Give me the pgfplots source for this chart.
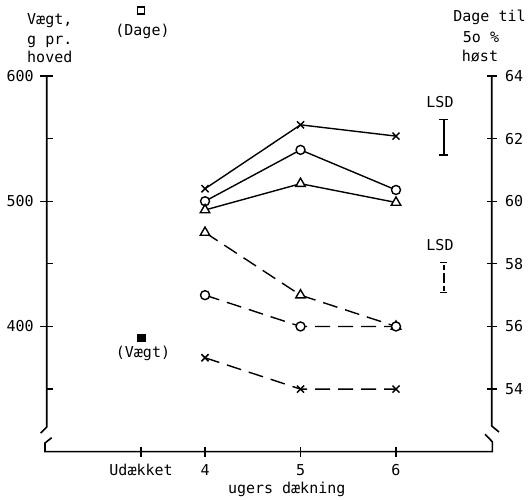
\documentclass[border=0pt]{standalone}
\usepackage{fontspec}
\setmainfont{DejaVu Sans Mono}
\usepackage{pgfplots}
\pgfplotsset{compat=1.18}
\begin{document}
\begin{tikzpicture}[font=\fontsize{15bp}{17bp}\selectfont]
\useasboundingbox (0,0) rectangle (531bp,500bp);
\pgfplotsset{
 base/.style={
  scale only axis, width=444.8bp, height=375.7bp,
  at={(46.7bp,48.3bp)}, anchor=south west,
  xmin=2.342, xmax=7, clip=false,
  axis line style={draw=none},
  /pgf/number format/assume math mode=true,
  tick style={black, line width=1.2bp},
  tick align=center,
  every tick label/.append style={font=\fontsize{15bp}{17bp}\selectfont},
 },
 wline/.style={black, line width=1.4bp},
 dline/.style={black, line width=1.4bp, dash pattern=on 15bp off 8bp},
}
% ---------- weight axis (left) ----------
\begin{axis}[base,
  ymin=300, ymax=600,
  axis y line*=left, axis x line=none,
  ytick={400,500,600},
  major tick length=13bp,
  extra y ticks={350,450,550},
  extra y tick labels={},
  extra y tick style={tick align=inside, major tick length=6.5bp},
  yticklabel style={anchor=east, xshift=-3bp},
]
\addplot[wline, mark=x, mark size=5bp, mark options={solid, line width=1.5bp}]
  coordinates {(4,510) (5,561) (6,552)};
\addplot[wline, mark=*, mark size=4.5bp, mark options={solid, fill=white, line width=1.4bp}]
  coordinates {(4,500) (5,541) (6,509)};
\addplot[wline, mark=triangle*, mark size=5.5bp, mark options={solid, fill=white, line width=1.4bp}]
  coordinates {(4,493) (5,514) (6,499)};
\addplot[only marks, black, mark=square*, mark size=3.8bp]
  coordinates {(3.33,391)};
% LSD (weight)
\addplot[black, line width=1.6bp, mark=none,
  error bars/.cd, y dir=both, y explicit,
  error bar style={line width=1.6bp, solid},
  error mark options={rotate=90, mark size=4.5bp, line width=1.6bp}]
  coordinates {(6.5,551.2) +- (0,14.2)};
\end{axis}
% ---------- days axis (right) ----------
\begin{axis}[base,
  ymin=52, ymax=64,
  axis y line*=right, axis x line*=bottom,
  ytick={54,56,58,60,62,64},
  xtick={3.33,4,5,6},
  xticklabels={Udækket,4,5,6},
  major tick length=10bp,
  yticklabel style={anchor=west, xshift=5bp},
  xticklabel style={anchor=base, yshift=-19bp},
]
\addplot[dline, mark=triangle*, mark size=5.5bp, mark options={solid, fill=white, line width=1.4bp}]
  coordinates {(4,59) (5,57) (6,56)};
\addplot[dline, mark=*, mark size=4.5bp, mark options={solid, fill=white, line width=1.4bp}]
  coordinates {(4,57) (5,56) (6,56)};
\addplot[dline, mark=x, mark size=5bp, mark options={solid, line width=1.5bp}]
  coordinates {(4,55) (5,54) (6,54)};
\addplot[only marks, black, mark=square, mark size=3.5bp, mark options={line width=1.8bp}]
  coordinates {(3.33,66.1)};
% LSD (days)
\addplot[black, line width=1.6bp, mark=none,
  error bars/.cd, y dir=both, y explicit,
  error bar style={line width=1.6bp, dash pattern=on 5bp off 3bp},
  error mark options={rotate=90, mark size=3.5bp, line width=1.6bp, solid}]
  coordinates {(6.5,57.56) +- (0,0.48)};
\end{axis}
% ---------- axis lines with breaks, titles ----------
\begin{scope}[x=1bp, y=-1bp, yshift=500bp]
 \draw[line width=1.6bp] (46.7,76) -- (46.7,427) -- (40.7,433);
 \draw[line width=1.6bp] (51.7,437.7) -- (45,443) -- (45,451.7) -- (492.3,451.7) -- (492.3,441.7) -- (485,434.3);
 \draw[line width=1.6bp] (491.7,76) -- (491.7,426) -- (499,432);
 \node[anchor=base west, inner sep=0] at (27,25) {Vægt,};
 \node[anchor=base west, inner sep=0] at (27,45) {g pr.};
 \node[anchor=base west, inner sep=0] at (27,63) {hoved};
 \node[anchor=base, inner sep=0] at (489.5,22) {Dage til};
 \node[anchor=base, inner sep=0] at (481,43) {5o \%};
 \node[anchor=base, inner sep=0] at (480,62) {høst};
 \node[anchor=base, inner sep=0] at (142.5,35.5) {(Dage)};
 \node[anchor=base, inner sep=0] at (143,358) {(Vægt)};
 \node[anchor=base, inner sep=0] at (440,108) {LSD};
 \node[anchor=base, inner sep=0] at (440,251) {LSD};
 \node[anchor=base, inner sep=0] at (286.7,494) {ugers dækning};
\end{scope}
\end{tikzpicture}
\end{document}
